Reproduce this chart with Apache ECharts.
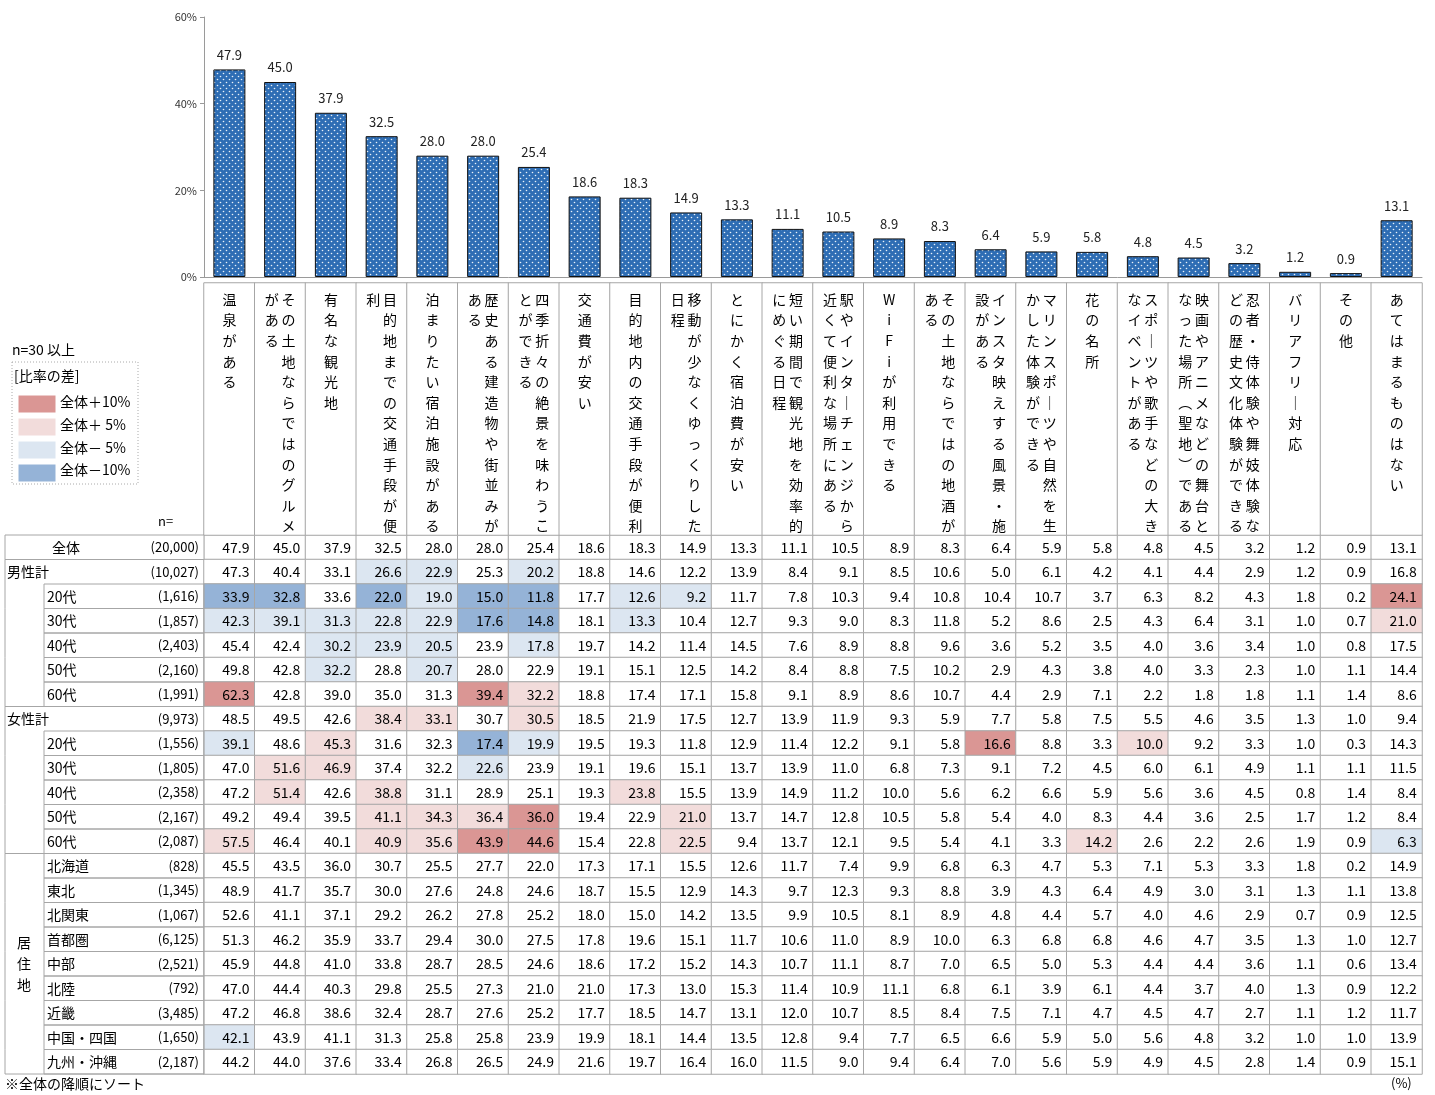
<!DOCTYPE html>
<html><head><meta charset="utf-8">
<script src="https://cdn.jsdelivr.net/npm/echarts@6/dist/echarts.min.js"></script>
<style>html,body{margin:0;padding:0;background:#fff}#c{width:1435px;height:1095px}</style>
</head><body><div id="c"></div>
<script>
// ---- data ----
const categories = ['温泉がある','その土地ならではのグルメがある','有名な観光地','目的地までの交通手段が便利','泊まりたい宿泊施設がある','歴史ある建造物や街並みがある','四季折々の絶景を味わうことができる','交通費が安い','目的地内の交通手段が便利','移動が少なくゆっくりした日程','とにかく宿泊費が安い','短い期間で観光地を効率的にめぐる日程','駅やインターチェンジから近くて便利な場所にある','WiFiが利用できる','その土地ならではの地酒がある','インスタ映えする風景・施設がある','マリンスポーツや自然を生かした体験ができる','花の名所','スポーツや歌手などの大きなイベントがある','映画やアニメなどの舞台となった場所（聖地）である','忍者・侍体験や舞妓体験などの歴史文化体験ができる','バリアフリー対応','その他','あてはまるものはない'];
const yTicks = [0, 20, 40, 60];

const overall   = [47.9,45.0,37.9,32.5,28.0,28.0,25.4,18.6,18.3,14.9,13.3,11.1,10.5,8.9,8.3,6.4,5.9,5.8,4.8,4.5,3.2,1.2,0.9,13.1];
const maleTotal = [47.3,40.4,33.1,26.6,22.9,25.3,20.2,18.8,14.6,12.2,13.9,8.4,9.1,8.5,10.6,5.0,6.1,4.2,4.1,4.4,2.9,1.2,0.9,16.8];
const male20    = [33.9,32.8,33.6,22.0,19.0,15.0,11.8,17.7,12.6,9.2,11.7,7.8,10.3,9.4,10.8,10.4,10.7,3.7,6.3,8.2,4.3,1.8,0.2,24.1];
const male30    = [42.3,39.1,31.3,22.8,22.9,17.6,14.8,18.1,13.3,10.4,12.7,9.3,9.0,8.3,11.8,5.2,8.6,2.5,4.3,6.4,3.1,1.0,0.7,21.0];
const male40    = [45.4,42.4,30.2,23.9,20.5,23.9,17.8,19.7,14.2,11.4,14.5,7.6,8.9,8.8,9.6,3.6,5.2,3.5,4.0,3.6,3.4,1.0,0.8,17.5];
const male50    = [49.8,42.8,32.2,28.8,20.7,28.0,22.9,19.1,15.1,12.5,14.2,8.4,8.8,7.5,10.2,2.9,4.3,3.8,4.0,3.3,2.3,1.0,1.1,14.4];
const male60    = [62.3,42.8,39.0,35.0,31.3,39.4,32.2,18.8,17.4,17.1,15.8,9.1,8.9,8.6,10.7,4.4,2.9,7.1,2.2,1.8,1.8,1.1,1.4,8.6];
const femaleTotal=[48.5,49.5,42.6,38.4,33.1,30.7,30.5,18.5,21.9,17.5,12.7,13.9,11.9,9.3,5.9,7.7,5.8,7.5,5.5,4.6,3.5,1.3,1.0,9.4];
const female20  = [39.1,48.6,45.3,31.6,32.3,17.4,19.9,19.5,19.3,11.8,12.9,11.4,12.2,9.1,5.8,16.6,8.8,3.3,10.0,9.2,3.3,1.0,0.3,14.3];
const female30  = [47.0,51.6,46.9,37.4,32.2,22.6,23.9,19.1,19.6,15.1,13.7,13.9,11.0,6.8,7.3,9.1,7.2,4.5,6.0,6.1,4.9,1.1,1.1,11.5];
const female40  = [47.2,51.4,42.6,38.8,31.1,28.9,25.1,19.3,23.8,15.5,13.9,14.9,11.2,10.0,5.6,6.2,6.6,5.9,5.6,3.6,4.5,0.8,1.4,8.4];
const female50  = [49.2,49.4,39.5,41.1,34.3,36.4,36.0,19.4,22.9,21.0,13.7,14.7,12.8,10.5,5.8,5.4,4.0,8.3,4.4,3.6,2.5,1.7,1.2,8.4];
const female60  = [57.5,46.4,40.1,40.9,35.6,43.9,44.6,15.4,22.8,22.5,9.4,13.7,12.1,9.5,5.4,4.1,3.3,14.2,2.6,2.2,2.6,1.9,0.9,6.3];
const hokkaido  = [45.5,43.5,36.0,30.7,25.5,27.7,22.0,17.3,17.1,15.5,12.6,11.7,7.4,9.9,6.8,6.3,4.7,5.3,7.1,5.3,3.3,1.8,0.2,14.9];
const tohoku    = [48.9,41.7,35.7,30.0,27.6,24.8,24.6,18.7,15.5,12.9,14.3,9.7,12.3,9.3,8.8,3.9,4.3,6.4,4.9,3.0,3.1,1.3,1.1,13.8];
const kitakanto = [52.6,41.1,37.1,29.2,26.2,27.8,25.2,18.0,15.0,14.2,13.5,9.9,10.5,8.1,8.9,4.8,4.4,5.7,4.0,4.6,2.9,0.7,0.9,12.5];
const shutoken  = [51.3,46.2,35.9,33.7,29.4,30.0,27.5,17.8,19.6,15.1,11.7,10.6,11.0,8.9,10.0,6.3,6.8,6.8,4.6,4.7,3.5,1.3,1.0,12.7];
const chubu     = [45.9,44.8,41.0,33.8,28.7,28.5,24.6,18.6,17.2,15.2,14.3,10.7,11.1,8.7,7.0,6.5,5.0,5.3,4.4,4.4,3.6,1.1,0.6,13.4];
const hokuriku  = [47.0,44.4,40.3,29.8,25.5,27.3,21.0,21.0,17.3,13.0,15.3,11.4,10.9,11.1,6.8,6.1,3.9,6.1,4.4,3.7,4.0,1.3,0.9,12.2];
const kinki     = [47.2,46.8,38.6,32.4,28.7,27.6,25.2,17.7,18.5,14.7,13.1,12.0,10.7,8.5,8.4,7.5,7.1,4.7,4.5,4.7,2.7,1.1,1.2,11.7];
const chugoku   = [42.1,43.9,41.1,31.3,25.8,25.8,23.9,19.9,18.1,14.4,13.5,12.8,9.4,7.7,6.5,6.6,5.9,5.0,5.6,4.8,3.2,1.0,1.0,13.9];
const kyushu    = [44.2,44.0,37.6,33.4,26.8,26.5,24.9,21.6,19.7,16.4,16.0,11.5,9.0,9.4,6.4,7.0,5.6,5.9,4.9,4.5,2.8,1.4,0.9,15.1];

const rowNames  = ['全体','男性計','20代','30代','40代','50代','60代','女性計','20代','30代','40代','50代','60代','北海道','東北','北関東','首都圏','中部','北陸','近畿','中国・四国','九州・沖縄'];
const rowLevels = [0,1,2,2,2,2,2,1,2,2,2,2,2,2,2,2,2,2,2,2,2,2];
const rowN      = [20000,10027,1616,1857,2403,2160,1991,9973,1556,1805,2358,2167,2087,828,1345,1067,6125,2521,792,3485,1650,2187];
const groupStartRows = [0,1,7,13];
const regionLabel = '居住地';
const regionLabelRow = 17;
const tableRows = [overall,maleTotal,male20,male30,male40,male50,male60,femaleTotal,female20,female30,female40,female50,female60,hokkaido,tohoku,kitakanto,shutoken,chubu,hokuriku,kinki,chugoku,kyushu];

// ---- build ----
const FONT = "'Noto Sans CJK JP', sans-serif";
const NUMFONT = "'Liberation Sans Narrow', 'Noto Sans CJK JP', sans-serif";
const rowIds = rowNames.map((n, i) => 'r' + i);

const tableData = [];
tableRows.forEach((row, r) => {
  row.forEach((v, c) => {
    const diff = Math.round((v - overall[c]) * 10) / 10;
    tableData.push([c, r, v, diff]);
  });
});
const headerData = categories.map((c, i) => [i, 0, 0]);
const leftData = rowNames.map((n, i) => [0, i]);

function vertical(name) {
  const s = name.replace(/ー/g, '｜').replace(/（/g, '︵').replace(/）/g, '︶');
  const chars = Array.from(s);
  const cols = [];
  for (let i = 0; i < chars.length; i += 12) cols.push(chars.slice(i, i + 12));
  const lines = [];
  for (let i = 0; i < cols[0].length; i++) {
    const parts = [];
    for (let c = cols.length - 1; c >= 0; c--) parts.push(cols[c][i] || '　');
    lines.push(parts.join('\u2009'));
  }
  return lines.join('\n');
}

// dotted pattern for bars
const pc = document.createElement('canvas');
pc.width = 6; pc.height = 6;
const pctx = pc.getContext('2d');
pctx.fillStyle = '#2e6db4';
pctx.fillRect(0, 0, 6, 6);
pctx.fillStyle = 'rgba(255,255,255,0.9)';
pctx.beginPath(); pctx.arc(1.5, 1.5, 0.8, 0, Math.PI * 2); pctx.fill();
pctx.beginPath(); pctx.arc(4.5, 4.5, 0.8, 0, Math.PI * 2); pctx.fill();

const BORDER = '#a6a6a6';

function renderLeft(params, api) {
  const r = api.value(1);
  const c = api.coord([0, r]);
  const h = api.size([0, 1])[1];
  const x0 = c[0], yc = c[1], y0 = yc - h / 2;
  const W = 199;
  const lvl = rowLevels[r];
  const ch = [];
  const ls = { stroke: BORDER, lineWidth: 1 };
  if (lvl === 0) {
    ch.push({ type: 'rect', shape: { x: x0, y: y0, width: W, height: h }, style: { fill: '#fff', stroke: BORDER, lineWidth: 1 } });
    ch.push({ type: 'text', style: { text: rowNames[r], x: x0 + 61, y: yc, align: 'center', verticalAlign: 'middle', font: '14px ' + FONT, fill: '#000' } });
  } else {
    ch.push({ type: 'line', shape: { x1: x0, y1: y0, x2: x0, y2: y0 + h }, style: ls });
    if (groupStartRows.indexOf(r) >= 0) ch.push({ type: 'line', shape: { x1: x0, y1: y0, x2: x0 + W, y2: y0 }, style: ls });
    if (r === rowNames.length - 1) ch.push({ type: 'line', shape: { x1: x0, y1: y0 + h, x2: x0 + W, y2: y0 + h }, style: ls });
    if (lvl === 2) {
      ch.push({ type: 'rect', shape: { x: x0 + 39, y: y0, width: W - 39, height: h }, style: { fill: 'none', stroke: BORDER, lineWidth: 1 } });
      ch.push({ type: 'text', style: { text: rowNames[r], x: x0 + 42, y: yc, align: 'left', verticalAlign: 'middle', font: '14px ' + FONT, fill: '#000' } });
    } else {
      ch.push({ type: 'text', style: { text: rowNames[r], x: x0 + 2, y: yc, align: 'left', verticalAlign: 'middle', font: '14px ' + FONT, fill: '#000' } });
    }
  }
  ch.push({ type: 'text', style: { text: '(' + rowN[r].toLocaleString('en-US') + ')', x: x0 + W - 5, y: yc, align: 'right', verticalAlign: 'middle', font: '13px ' + NUMFONT, fill: '#000' } });
  if (r === regionLabelRow) {
    ch.push({ type: 'text', style: { text: Array.from(regionLabel).join('\n'), x: x0 + 19, y: yc, align: 'center', verticalAlign: 'middle', lineHeight: 21, font: '14px ' + FONT, fill: '#000' } });
  }
  return { type: 'group', children: ch };
}

const chart = echarts.init(document.getElementById('c'), null, { renderer: 'canvas' });
chart.setOption({
  animation: false,
  backgroundColor: '#fff',
  textStyle: { fontFamily: FONT },
  grid: [
    { left: 204, width: 1218, top: 17, height: 260 },
    { left: 204, width: 1218, top: 535, height: 539 },
    { left: 204, width: 1218, top: 283, height: 252 },
    { left: 5, width: 199, top: 535, height: 539 }
  ],
  xAxis: [
    { type: 'category', gridIndex: 0, data: categories, axisLine: { lineStyle: { color: '#9a9a9a' } }, axisTick: { show: false }, axisLabel: { show: false } },
    { type: 'category', gridIndex: 1, data: categories, show: false },
    { type: 'category', gridIndex: 2, data: categories, show: false },
    { type: 'value', gridIndex: 3, min: 0, max: 199, show: false }
  ],
  yAxis: [
    { type: 'value', gridIndex: 0, min: yTicks[0], max: yTicks[yTicks.length - 1], interval: 20,
      axisLine: { show: true, lineStyle: { color: '#9a9a9a' } }, axisTick: { show: true, length: 4, lineStyle: { color: '#9a9a9a' } },
      splitLine: { show: false }, axisLabel: { formatter: '{value}%', fontSize: 11, color: '#333', margin: 7, fontFamily: NUMFONT } },
    { type: 'category', gridIndex: 1, data: rowIds, inverse: true, show: false },
    { type: 'category', gridIndex: 2, data: ['h'], show: false },
    { type: 'category', gridIndex: 3, data: rowIds, inverse: true, show: false }
  ],
  visualMap: {
    type: 'piecewise', show: false, seriesIndex: 1, dimension: 3,
    pieces: [
      { lte: -10, color: '#95B3D7' },
      { gt: -10, lte: -5, color: '#DCE6F1' },
      { gt: -5, lt: 5, color: '#FFFFFF' },
      { gte: 5, lt: 10, color: '#F2DCDB' },
      { gte: 10, color: '#DA9694' }
    ]
  },
  series: [
    { type: 'bar', xAxisIndex: 0, yAxisIndex: 0, data: overall, barWidth: 32,
      itemStyle: { color: { image: pc, repeat: 'repeat' }, borderColor: '#111', borderWidth: 1 },
      label: { show: true, position: 'top', distance: 8, fontSize: 13, color: '#222', fontFamily: NUMFONT, formatter: p => p.value.toFixed(1) },
      emphasis: { disabled: true } },
    { type: 'heatmap', xAxisIndex: 1, yAxisIndex: 1, data: tableData,
      itemStyle: { borderColor: BORDER, borderWidth: 1 },
      label: { show: true, position: 'insideRight', distance: 6, fontSize: 14, color: '#000', fontFamily: NUMFONT, formatter: p => p.value[2].toFixed(1) },
      emphasis: { disabled: true } },
    { type: 'heatmap', xAxisIndex: 2, yAxisIndex: 2, data: headerData,
      itemStyle: { color: '#fff', borderColor: BORDER, borderWidth: 1 },
      label: { show: true, position: 'insideTop', distance: 7, fontSize: 14, lineHeight: 20.6, align: 'center', color: '#000', fontFamily: FONT,
        formatter: p => vertical(categories[p.value[0]]) },
      emphasis: { disabled: true } },
    { type: 'custom', xAxisIndex: 3, yAxisIndex: 3, data: leftData, renderItem: renderLeft, silent: true }
  ],
  graphic: [
    { type: 'text', left: 12, top: 343, style: { text: 'n=30 以上', font: '14px ' + FONT, fill: '#000' } },
    { type: 'rect', shape: { x: 12, y: 362, width: 126, height: 122 }, style: { fill: 'none', stroke: '#aaa', lineWidth: 1, lineDash: [1, 2] } },
    { type: 'text', left: 14, top: 369, style: { text: '[比率の差]', font: '14px ' + FONT, fill: '#000' } },
    { type: 'rect', shape: { x: 18, y: 395, width: 38, height: 18 }, style: { fill: '#DA9694', stroke: '#fff' } },
    { type: 'rect', shape: { x: 18, y: 418, width: 38, height: 18 }, style: { fill: '#F2DCDB', stroke: '#fff' } },
    { type: 'rect', shape: { x: 18, y: 441, width: 38, height: 18 }, style: { fill: '#DCE6F1', stroke: '#fff' } },
    { type: 'rect', shape: { x: 18, y: 464, width: 38, height: 18 }, style: { fill: '#95B3D7', stroke: '#fff' } },
    { type: 'text', left: 60, top: 395, style: { text: '全体＋10%', font: '14px ' + FONT, fill: '#000' } },
    { type: 'text', left: 60, top: 418, style: { text: '全体＋ 5%', font: '14px ' + FONT, fill: '#000' } },
    { type: 'text', left: 60, top: 441, style: { text: '全体－ 5%', font: '14px ' + FONT, fill: '#000' } },
    { type: 'text', left: 60, top: 463, style: { text: '全体－10%', font: '14px ' + FONT, fill: '#000' } },
    { type: 'text', left: 158, top: 515, style: { text: 'n=', font: '13px ' + FONT, fill: '#000' } },
    { type: 'text', left: 5, top: 1077, style: { text: '※全体の降順にソート', font: '14px ' + FONT, fill: '#000' } },
    { type: 'text', left: 1391, top: 1077, style: { text: '(%)', font: '13px ' + FONT, fill: '#000' } }
  ]
});
</script>
</body></html>
